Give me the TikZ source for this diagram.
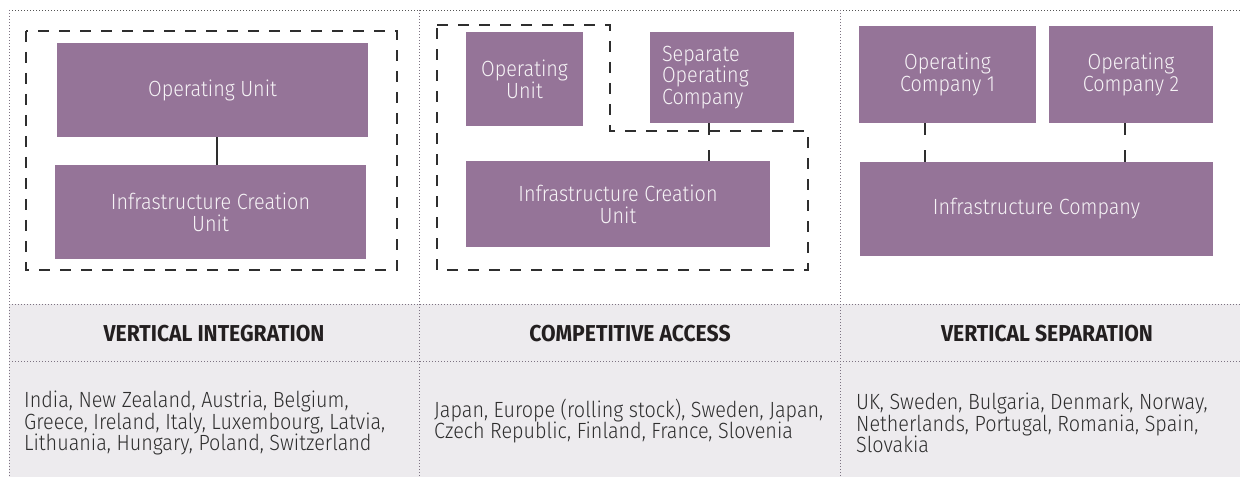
\documentclass[tikz,border=0pt]{standalone}
\usepackage{fontspec}
\newfontfamily\lightfont{Fira Sans Light}[FakeStretch=0.9]
\newfontfamily\hdrfont{Fira Sans Bold}[FakeStretch=0.92]
\definecolor{boxpurple}{HTML}{957498}
\definecolor{boxtext}{HTML}{F6F3F6}
\definecolor{graybg}{HTML}{EDEBEE}
\definecolor{dotcol}{HTML}{7D7382}
\definecolor{topdot}{HTML}{555555}
\definecolor{dashcol}{HTML}{2E2E2E}
\definecolor{bodytext}{HTML}{2E2E2E}
\definecolor{hdrtext}{HTML}{231F20}
\tikzset{
  pbox/.style={fill=boxpurple, draw=none, inner sep=0pt, text=boxtext,
    font=\lightfont\fontsize{22bp}{21.7bp}\selectfont, align=center},
  grpline/.style={draw=dashcol, line width=2bp, dash pattern=on 11bp off 10bp},
  linkline/.style={draw=dashcol, line width=2bp},
  dlinkline/.style={draw=dashcol, line width=2bp, dash pattern=on 12bp off 15bp},
  frameline/.style={draw=dotcol, line width=0.9bp, dash pattern=on 0.9bp off 2.1bp},
  hdr/.style={font=\hdrfont\fontsize{23bp}{25bp}\selectfont, text=hdrtext, inner sep=0pt},
  body/.style={font=\lightfont\fontsize{22bp}{21.7bp}\selectfont, text=bodytext,
    align=left, inner sep=0pt, anchor=west}
}
\begin{document}
\begin{tikzpicture}[x=1bp, y=-1bp]
\useasboundingbox (0,0) rectangle (1240,477);
% grey band
\fill[graybg] (9,304) rectangle (1240,477);
% frame lines
\draw[frameline, draw=topdot] (9,10) -- (1240,10);
\draw[frameline] (9,304) -- (1240,304);
\draw[frameline] (9,361) -- (1240,361);
\draw[frameline] (9,10) -- (9,477);
\draw[frameline] (419,10) -- (419,477);
\draw[frameline] (840,10) -- (840,477);

% column 1
\node[pbox, minimum width=311bp, minimum height=94bp] (a1) at (212.5,90) {Operating Unit};
\node[pbox, minimum width=311bp, minimum height=94bp] (a2) at (210.5,212) {Infrastructure Creation\\Unit};
\coordinate (ax) at (217,0);
\draw[linkline] (a1.south -| ax) -- (a2.north -| ax);
\draw[grpline] (26,31) rectangle (397,270);

% column 2
\node[pbox, minimum width=117bp, minimum height=94bp] (b1) at (524.5,79) {Operating\\Unit};
\node[pbox, minimum width=144bp, minimum height=91bp, align=left, text width=120bp, inner xsep=12bp] (b2) at (722,77.5) {Separate\\Operating\\Company};
\node[pbox, minimum width=304bp, minimum height=86bp] (b3) at (618,204) {Infrastructure Creation\\Unit};
\coordinate (bx) at (709,0);
\draw[dlinkline] (b2.south -| bx) -- (b3.north -| bx);
\draw[grpline] (437,25) -- (610,25) -- (610,131) -- (808,131) -- (808,270) -- (437,270) -- cycle;

% column 3
\node[pbox, minimum width=177bp, minimum height=97bp] (c1) at (947.5,74.5) {Operating\\Company 1};
\node[pbox, minimum width=164bp, minimum height=97bp] (c2) at (1131,74.5) {Operating\\Company 2};
\node[pbox, minimum width=353bp, minimum height=94bp] (c3) at (1036.5,209) {Infrastructure Company};
\coordinate (cx1) at (925,0);
\coordinate (cx2) at (1125,0);
\draw[dlinkline] (c1.south -| cx1) -- (c3.north -| cx1);
\draw[dlinkline] (c2.south -| cx2) -- (c3.north -| cx2);

% headers
\node[hdr] (h1) at (214,334) {VERTICAL INTEGRATION};
\node[hdr] (h2) at (630,334) {COMPETITIVE ACCESS};
\node[hdr] (h3) at (1047,334) {VERTICAL SEPARATION};

% country lists
\node[body] (t1) at (24,423) {India, New Zealand, Austria, Belgium,\\Greece, Ireland, Italy, Luxembourg, Latvia,\\Lithuania, Hungary, Poland, Switzerland};
\node[body] (t2) at (434,421) {Japan, Europe (rolling stock), Sweden, Japan,\\Czech Republic, Finland, France, Slovenia};
\node[body] (t3) at (856,423) {UK, Sweden, Bulgaria, Denmark, Norway,\\Netherlands, Portugal, Romania, Spain,\\Slovakia};
\end{tikzpicture}
\end{document}
